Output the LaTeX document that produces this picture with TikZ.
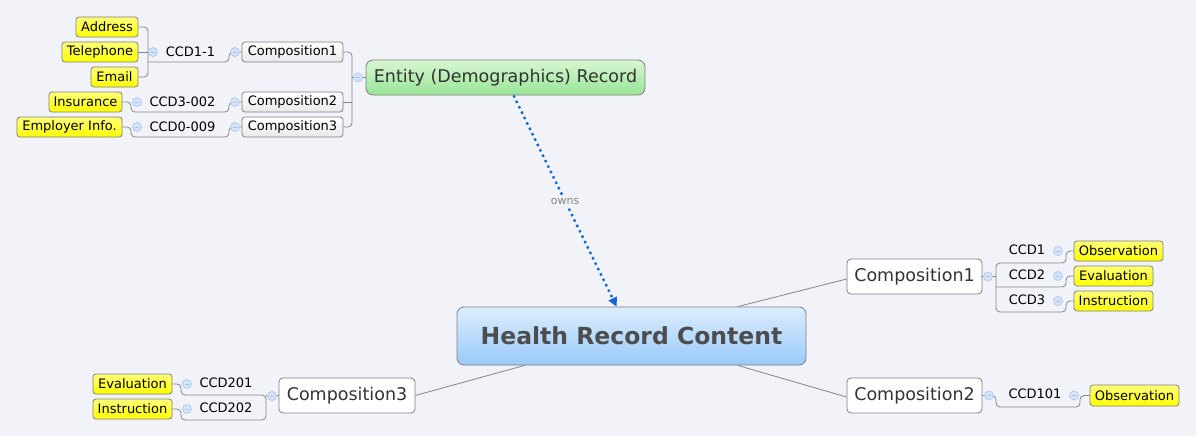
\documentclass[tikz,border=0pt]{standalone}
\usepackage{fontspec}
\setmainfont{DejaVu Sans}
\usetikzlibrary{arrows.meta,calc}
\definecolor{bgc}{HTML}{F2F3F8}
\definecolor{linec}{HTML}{858585}
\definecolor{borderc}{HTML}{7F7F7F}
\definecolor{yelTop}{HTML}{FFFF7A}
\definecolor{yelBot}{HTML}{FFFF00}
\definecolor{grnTop}{HTML}{D9F6D2}
\definecolor{grnBot}{HTML}{97E596}
\definecolor{bluTop}{HTML}{DDEDFE}
\definecolor{bluBot}{HTML}{98CAFA}
\definecolor{sgray}{HTML}{E9E9E9}
\definecolor{txtdark}{HTML}{333333}
\definecolor{txtcen}{HTML}{4D4D4D}
\definecolor{arrowc}{HTML}{1368D9}
\definecolor{collFill}{HTML}{D6E4FA}
\definecolor{collDraw}{HTML}{A7C3EC}
\newcommand{\fsml}{\fontsize{13}{15}\selectfont}
\newcommand{\flrg}{\fontsize{17.5}{20}\selectfont}
\newcommand{\fbig}{\fontsize{23.5}{26}\selectfont\bfseries}
\newcommand{\fown}{\fontsize{11}{13}\selectfont}
\begin{document}
\begin{tikzpicture}[x=1pt,y=-1pt,
  ybox/.style={draw=borderc, line width=0.8pt, rounded corners=3pt, top color=yelTop, bottom color=yelBot, minimum height=20, inner sep=0, font=\fsml, text=black},
  sbox/.style={draw=borderc, line width=0.8pt, rounded corners=3pt, top color=white, bottom color=sgray, minimum width=101, minimum height=20, inner sep=0, font=\fsml, text=black},
  lbox/.style={draw=borderc, line width=0.8pt, rounded corners=4pt, fill=white, minimum width=135, minimum height=35, inner sep=0, font=\flrg, text=txtdark},
  plain/.style={inner sep=0, font=\fsml, text=black},
  conn/.style={draw=linec, line width=0.8pt, rounded corners=4pt},
  coll/.style={circle, draw=collDraw, fill=collFill, line width=0.6pt, minimum size=9, inner sep=0,
    path picture={\draw[collDraw, line width=0.7pt] ([xshift=-2pt]path picture bounding box.center) -- ([xshift=2pt]path picture bounding box.center);}}
]
\useasboundingbox (0,0) rectangle (1196,436);
\fill[bgc] (0,0) rectangle (1196,436);

% ---- main nodes
\node[draw=borderc, line width=0.8pt, rounded corners=7pt, top color=bluTop, bottom color=bluBot, minimum width=349, minimum height=58, inner sep=0, font=\fbig, text=txtcen] (central) at (631.5,336) {Health Record Content};
\node[draw=borderc, line width=0.8pt, rounded corners=7pt, top color=grnTop, bottom color=grnBot, minimum width=279, minimum height=35, inner sep=0, font=\flrg, text=txtdark] (ent) at (505.5,77.5) {Entity (Demographics) Record};

% ---- top-left branch
\node[sbox] (comp1L) at (292.5,52) {Composition1};
\node[sbox] (comp2L) at (292.5,102) {Composition2};
\node[sbox] (comp3L) at (292.5,127) {Composition3};
\node[plain] (c11) at (190.5,52) {CCD1-1};
\node[plain] (c3002) at (182.5,102) {CCD3-002};
\node[plain] (c0009) at (182.5,127) {CCD0-009};
\node[ybox, minimum width=62] (addr) at (107,27) {Address};
\node[ybox, minimum width=76] (tel) at (100,52) {Telephone};
\node[ybox, minimum width=47] (email) at (114.5,77) {Email};
\node[ybox, minimum width=73] (ins) at (85.5,102) {Insurance};
\node[ybox, minimum width=105] (emp) at (69.5,127) {Employer Info.};

\path[conn] (addr.east) -- (148,27) -- (148,77) -- (email.east);
\path[conn] (tel.east) -- (148,52);
\coordinate (u11L) at (148,62);
\path[conn] (u11L) -- (229,62) -- (229,52) -- (comp1L.west);
\path[conn] (ins.east) -- (131,102) -- (131,112) -- (229,112) -- (229,102) -- (comp2L.west);
\path[conn] (emp.east) -- (131,127) -- (131,137) -- (229,137) -- (229,127) -- (comp3L.west);
\path[conn] (comp1L.east) -- (352,52) -- (352,127) -- (comp3L.east);
\path[conn] (comp2L.east) -- (352,102);
\coordinate (brE) at (352,77.5);
\path[conn] (brE) -- (ent.west);

\node[coll] (k1) at (358,77.5) {};
\node[coll] (k2) at (235,52) {};
\node[coll] (k3) at (235,102) {};
\node[coll] (k4) at (235,127) {};
\node[coll] (k5) at (153,52) {};
\node[coll] (k6) at (137,102) {};
\node[coll] (k7) at (137,127) {};

% ---- right branches
\node[lbox] (comp1R) at (914.5,276.5) {Composition1};
\node[lbox] (comp2R) at (914.5,395.5) {Composition2};
\node[lbox, minimum width=136] (comp3) at (347,395.5) {Composition3};

\node[plain] (ccd1) at (1027,250) {CCD1};
\node[plain] (ccd2) at (1027,275) {CCD2};
\node[plain] (ccd3) at (1027,300) {CCD3};
\node[ybox, minimum width=89] (obs1) at (1118.5,251) {Observation};
\node[ybox, minimum width=79] (eval1) at (1113.5,276) {Evaluation};
\node[ybox, minimum width=79] (instr1) at (1113.5,301) {Instruction};

\path[conn] (obs1.west) -- (1066,251) -- (1066,263) -- (996,263) -- (996,312) -- (1066,312) -- (1066,301) -- (instr1.west);
\path[conn] (eval1.west) -- (1066,276) -- (1066,287) -- (996,287);
\path[conn] (comp1R.east) -- (996,276.5);

\node[plain] (ccd101) at (1035,394) {CCD101};
\node[ybox, minimum width=89, minimum height=21] (obs2) at (1134.5,395.5) {Observation};
\path[conn] (comp2R.east) -- (996,395.5) -- (996,407) -- (1080,407) -- (1080,395.5) -- (obs2.west);

\node[plain] (ccd201) at (226,383) {CCD201};
\node[plain] (ccd202) at (226,408) {CCD202};
\node[ybox, minimum width=79] (eval2) at (132.5,384) {Evaluation};
\node[ybox, minimum width=79] (instr2) at (132.5,409) {Instruction};
\path[conn] (eval2.east) -- (181,384) -- (181,395) -- (266,395) -- (266,420) -- (181,420) -- (181,409) -- (instr2.east);
\path[conn] (comp3.west) -- (266,395.5);

\node[coll] (k8) at (988,276.5) {};
\node[coll] (k9) at (1058,251) {};
\node[coll] (k10) at (1058,276) {};
\node[coll] (k11) at (1058,301) {};
\node[coll] (k12) at (989,395.5) {};
\node[coll] (k13) at (1074,395.5) {};
\node[coll] (k14) at (272,396) {};
\node[coll] (k15) at (187,384) {};
\node[coll] (k16) at (187,409) {};

% ---- central links
\draw[linec, line width=0.8pt] ($(central.north west)+(281,0)$) -- ($(comp1R.west)+(0,2.5)$);
\draw[linec, line width=0.8pt] ($(central.south west)+(281,0)$) -- ($(comp2R.west)+(0,1.5)$);
\draw[linec, line width=0.8pt] ($(central.south west)+(68,0)$) -- (comp3.east);

% ---- owns arrow
\draw[arrowc, line width=2.4pt, dash pattern=on 2.4pt off 3.6pt, -{Triangle[length=9pt,width=9pt]}]
  ($(ent.south west)+(148,0)$) -- node[fill=bgc, inner sep=1.5pt, font=\fown, text=linec] (owns) {owns} ($(central.north west)+(160,0)$);
\end{tikzpicture}
\end{document}
